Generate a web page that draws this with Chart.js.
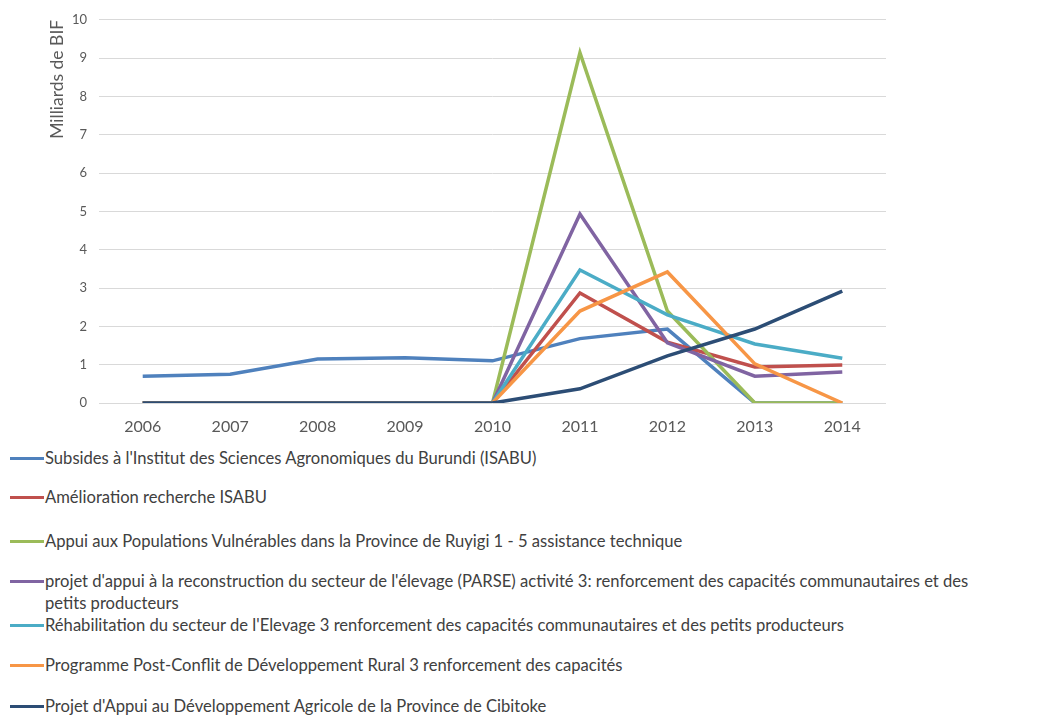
<!DOCTYPE html>
<html>
<head>
<meta charset="utf-8">
<script src="https://cdn.jsdelivr.net/npm/chart.js@4/dist/chart.umd.min.js"></script>
<style>
  body { margin: 0; background: #fff; font-family: Lato, "Open Sans", sans-serif; }
  #wrap { position: relative; width: 1040px; height: 715px; overflow: hidden; }
  #grafico { position: absolute; left: 0; top: 0; }
  #leyenda { position: absolute; left: 10px; top: 447px; width: 1030px; color: #404040; font-size: 16.6px; }
  .item { position: absolute; left: 0; padding-left: 35px; line-height: 22px; width: 955px; }
  .item span.linea { position: absolute; left: 0; top: 10px; width: 34px; height: 3px; }
</style>
</head>
<body>
<div id="wrap">
  <canvas id="grafico" width="1040" height="440"></canvas>
  <div id="leyenda"></div>
</div>
<script>
var anios = ["2006", "2007", "2008", "2009", "2010", "2011", "2012", "2013", "2014"];

var nombres = [
    "Subsides à l'Institut des Sciences Agronomiques du Burundi (ISABU)",
    "Amélioration recherche ISABU",
    "Appui aux Populations Vulnérables dans la Province de Ruyigi 1 - 5 assistance technique",
    "projet d'appui à la reconstruction du secteur de l'élevage (PARSE) activité 3: renforcement des capacités communautaires et des petits producteurs",
    "Réhabilitation du secteur de l'Elevage 3 renforcement des capacités communautaires et des petits producteurs",
    "Programme Post-Conflit de Développement Rural 3 renforcement des capacités",
    "Projet d'Appui au Développement Agricole de la Province de Cibitoke"
];

var isabu      = [0.70, 0.75, 1.15, 1.18, 1.10, 1.68, 1.93, 0, 0];
var recherche  = [0, 0, 0, 0, 0, 2.87, 1.59, 0.94, 0.99];
var ruyigi     = [0, 0, 0, 0, 0, 9.14, 2.40, 0, 0];
var parse      = [0, 0, 0, 0, 0, 4.93, 1.57, 0.70, 0.81];
var elevage    = [0, 0, 0, 0, 0, 3.47, 2.30, 1.54, 1.17];
var postConflit = [0, 0, 0, 0, 0, 2.40, 3.42, 1.02, 0];
var cibitoke   = [0, 0, 0, 0, 0, 0.37, 1.23, 1.93, 2.92];

var colores = ["#4F81BD", "#C0504D", "#9BBB59", "#8064A2", "#4BACC6", "#F79646", "#2C4D75"];
var valores = [isabu, recherche, ruyigi, parse, elevage, postConflit, cibitoke];

// legend vertical positions (line centres) relative to legend box
var posLeyenda = [0, 39, 83, 123, 167, 207, 248];

var datasets = valores.map(function (v, i) {
    return {
        label: nombres[i],
        data: v,
        borderColor: colores[i],
        backgroundColor: colores[i],
        borderWidth: 3.5,
        pointRadius: 0,
        tension: 0,
        order: valores.length - i
    };
});

var ctx1 = document.getElementById("grafico").getContext("2d");
window.myLine = new Chart(ctx1, {
    type: "line",
    data: { labels: anios, datasets: datasets },
    options: {
        responsive: false,
        animation: false,
        layout: { padding: { top: 13, right: 154, left: 47, bottom: 0 } },
        plugins: {
            legend: { display: false },
            tooltip: { enabled: false }
        },
        scales: {
            x: {
                offset: true,
                grid: { display: false },
                border: { display: false },
                ticks: { color: "#595959", font: { family: "Lato", size: 16 }, padding: 6 },
                afterFit: function (s) { s.height = 37; }
            },
            y: {
                min: 0,
                max: 10,
                ticks: { stepSize: 1, color: "#595959", font: { family: "Lato", size: 13 }, padding: 12 },
                grid: { color: "#D9D9D9", lineWidth: 1, drawTicks: false },
                border: { display: false },
                title: {
                    display: true,
                    text: "Milliards de BIF",
                    align: "end",
                    color: "#595959",
                    font: { family: "Lato", size: 17.5 },
                    padding: { top: 0, bottom: 5 }
                },
                afterFit: function (s) { s.width = 52; }
            }
        }
    }
});

var leyenda = document.getElementById("leyenda");
nombres.forEach(function (n, i) {
    var d = document.createElement("div");
    d.className = "item";
    d.style.top = (posLeyenda[i]) + "px";
    var l = document.createElement("span");
    l.className = "linea";
    l.style.background = colores[i];
    d.appendChild(l);
    d.appendChild(document.createTextNode(n));
    leyenda.appendChild(d);
});
</script>
</body>
</html>
